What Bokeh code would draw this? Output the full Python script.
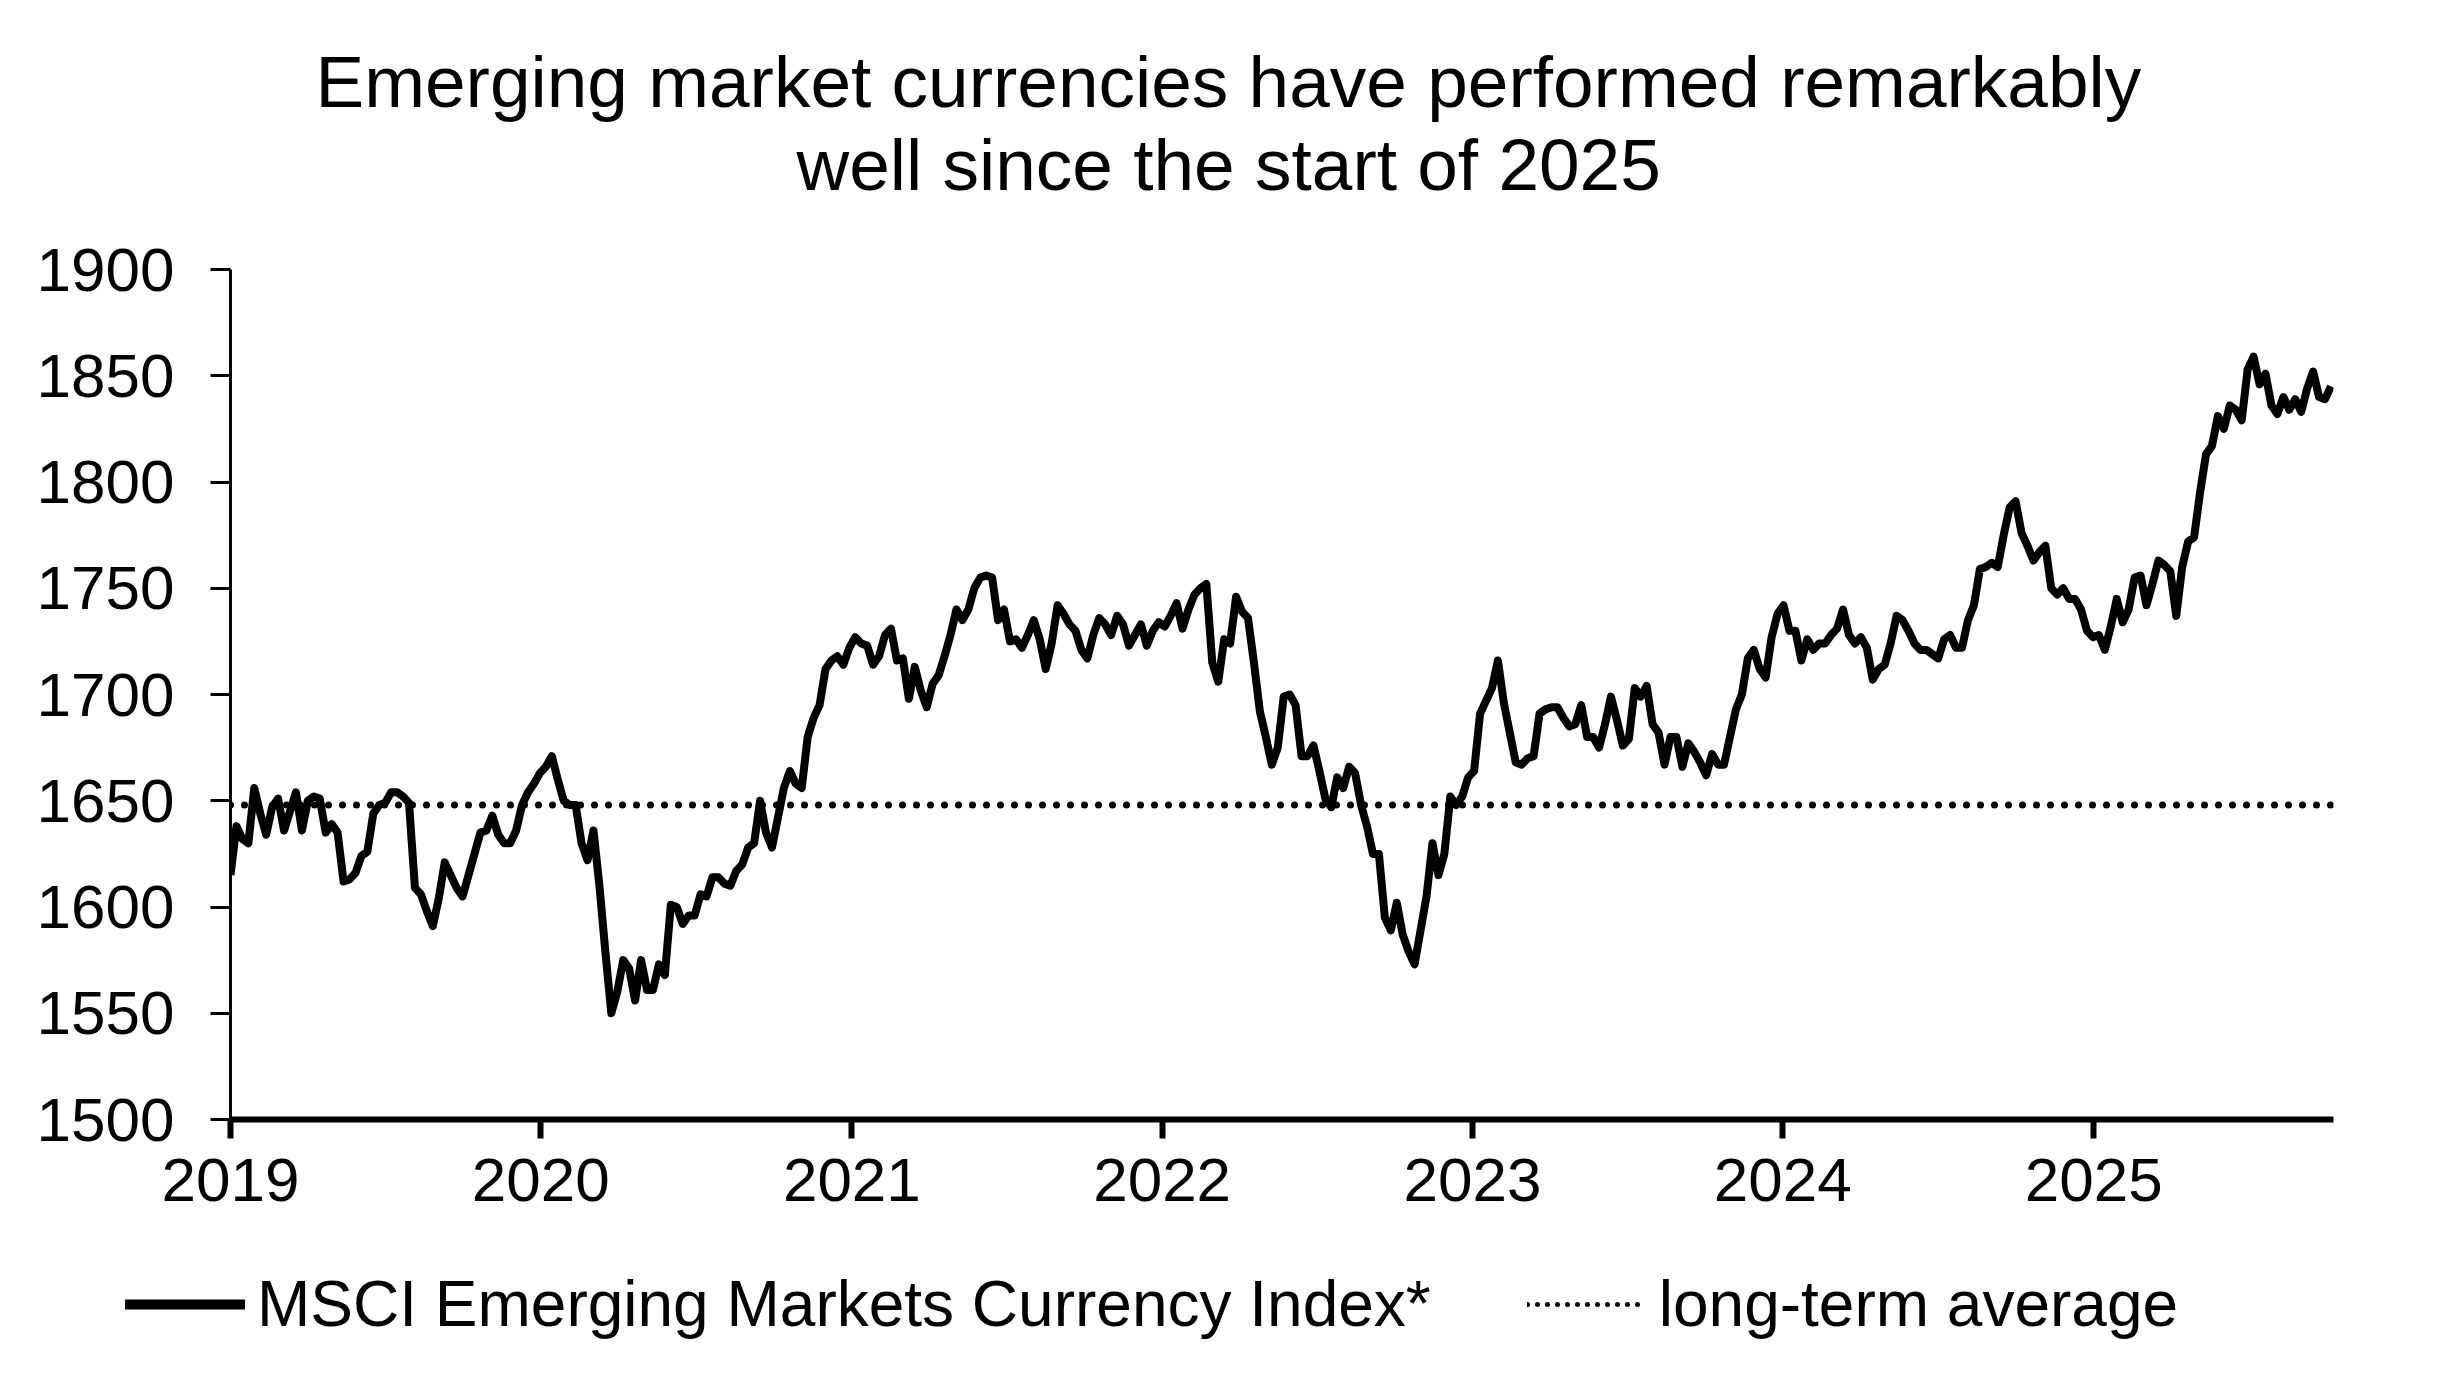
import pandas as pd
from bokeh.plotting import figure
from bokeh.layouts import column
from bokeh.models import (Range1d, FixedTicker, DatetimeTickFormatter, Title,
                          Legend, LegendItem)
from bokeh.core.properties import value
from bokeh.embed import file_html
from bokeh.resources import INLINE

FONT = "Liberation Sans"

title_lines = [
    "Emerging market currencies have performed remarkably",
    "well since the start of 2025",
]
series_label = "MSCI Emerging Markets Currency Index*"
average_label = "long-term average"

year_ticks = [2019, 2020, 2021, 2022, 2023, 2024, 2025]
y_ticks = [1500, 1550, 1600, 1650, 1700, 1750, 1800, 1850, 1900]
long_term_average = 1648

# Weekly index levels, one list per calendar year
idx_2019 = [1615, 1638, 1632, 1630, 1656, 1644, 1634, 1647, 1651, 1636,
            1645, 1654, 1636, 1650, 1652, 1651, 1635, 1639, 1635, 1612,
            1613, 1616, 1624, 1626, 1644, 1648, 1649, 1654, 1654, 1652,
            1649, 1609, 1606, 1598, 1591, 1604, 1621, 1615, 1609, 1605,
            1615, 1625, 1635, 1636, 1643, 1634, 1630, 1630, 1636, 1648,
            1654, 1658, 1663]
idx_2020 = [1666, 1671, 1660, 1650, 1648, 1648, 1630, 1622, 1636, 1610,
            1579, 1550, 1560, 1575, 1571, 1556, 1575, 1561, 1561, 1573,
            1568, 1601, 1600, 1592, 1596, 1596, 1606, 1605, 1614, 1614,
            1611, 1610, 1617, 1620, 1628, 1630, 1650, 1635, 1628, 1642,
            1656, 1664, 1658, 1656, 1680, 1689, 1695, 1712, 1716, 1718,
            1714, 1722]
idx_2021 = [1727, 1724, 1723, 1714, 1718, 1728, 1731, 1716, 1717, 1698,
            1713, 1702, 1694, 1705, 1709, 1718, 1728, 1740, 1735, 1740,
            1750, 1755, 1756, 1755, 1735, 1740, 1725, 1726, 1722, 1728,
            1735, 1726, 1712, 1724, 1742, 1738, 1733, 1730, 1721, 1717,
            1728, 1736, 1733, 1728, 1737, 1733, 1723, 1728, 1733, 1723,
            1730, 1734]
idx_2022 = [1732, 1737, 1743, 1731, 1740, 1747, 1750, 1752, 1715, 1706,
            1726, 1724, 1746, 1739, 1736, 1715, 1692, 1680, 1667, 1675,
            1699, 1700, 1695, 1671, 1671, 1676, 1664, 1651, 1647, 1661,
            1656, 1666, 1663, 1648, 1638, 1625, 1625, 1595, 1589, 1602,
            1587, 1579, 1573, 1589, 1605, 1630, 1615, 1625, 1652, 1648,
            1652, 1661]
idx_2023 = [1664, 1691, 1697, 1703, 1716, 1696, 1682, 1668, 1667, 1670,
            1671, 1691, 1693, 1694, 1694, 1689, 1685, 1686, 1695, 1680,
            1680, 1675, 1686, 1699, 1688, 1676, 1679, 1703, 1699, 1704,
            1686, 1682, 1667, 1680, 1680, 1666, 1677, 1673, 1668, 1662,
            1672, 1667, 1667, 1680, 1693, 1700, 1717, 1721, 1712, 1708,
            1727, 1738]
idx_2024 = [1742, 1730, 1730, 1716, 1726, 1721, 1724, 1724, 1728, 1731,
            1740, 1728, 1724, 1727, 1722, 1707, 1712, 1714, 1724, 1737,
            1735, 1730, 1724, 1721, 1721, 1719, 1717, 1726, 1728, 1722,
            1722, 1735, 1742, 1759, 1760, 1762, 1760, 1775, 1788, 1791,
            1776, 1770, 1763, 1767, 1770, 1750, 1747, 1750, 1745, 1745,
            1740, 1730, 1727]
idx_2025 = [1728, 1721, 1732, 1745, 1734, 1740, 1755, 1756, 1742, 1752,
            1763, 1761, 1758, 1737, 1760, 1772, 1774, 1795, 1813, 1817,
            1831, 1825, 1836, 1834, 1829, 1853, 1859, 1846, 1851, 1836,
            1832, 1840, 1834, 1839, 1833, 1844, 1852, 1840, 1839, 1845]

values = idx_2019 + idx_2020 + idx_2021 + idx_2022 + idx_2023 + idx_2024 + idx_2025
dates = pd.date_range("2019-01-01", periods=len(values), freq="7D")

x_start = pd.Timestamp("2019-01-01")
x_end = pd.Timestamp("2025-10-10")

WIDTH = 2455
CHART_H = 1240
LEGEND_H = 145

p = figure(
    width=WIDTH, height=CHART_H,
    x_axis_type="datetime",
    x_range=Range1d(x_start, x_end),
    y_range=Range1d(y_ticks[0], y_ticks[-1]),
    output_backend="svg", toolbar_location=None,
    min_border_left=230, min_border_right=122,
    min_border_top=269, min_border_bottom=121,
)
p.frame_align = False
p.background_fill_color = "white"
p.border_fill_color = "white"
p.outline_line_color = None
p.xgrid.visible = False
p.ygrid.visible = False

# x axis: one tick at the start of every year
xa = p.xaxis[0]
xa.ticker = FixedTicker(ticks=[pd.Timestamp(f"{y}-01-01").value // 10**6 for y in year_ticks])
xa.formatter = DatetimeTickFormatter(years="%Y", months="%Y", days="%Y", hours="%Y")
xa.axis_line_width = 6
xa.axis_line_color = "black"
xa.major_tick_line_width = 6
xa.major_tick_line_color = "black"
xa.major_tick_out = 19
xa.major_tick_in = 0
xa.minor_tick_line_color = None
xa.major_label_text_font = FONT
xa.major_label_text_font_size = "62px"
xa.major_label_text_color = "black"
xa.major_label_standoff = 20

ya = p.yaxis[0]
ya.ticker = FixedTicker(ticks=y_ticks)
ya.axis_line_width = 3
ya.axis_line_color = "black"
ya.major_tick_line_width = 3
ya.major_tick_line_color = "black"
ya.major_tick_out = 20
ya.major_tick_in = 0
ya.minor_tick_line_color = None
ya.major_label_text_font = FONT
ya.major_label_text_font_size = "62px"
ya.major_label_text_color = "black"
ya.major_label_standoff = 36

# long-term average (dotted) and the index itself
p.line([x_start, x_end], [long_term_average, long_term_average],
       line_width=7, line_color="black", line_dash="0 14", line_cap="round")
p.line(dates, values, line_width=8, line_color="black", line_join="round")

# two-line heading, stacked above the frame (first added sits lowest)
spacer = Title(text=" ", text_font_size="1px", standoff=62)
p.add_layout(spacer, "above")
for text, offset in [(title_lines[1], 566), (title_lines[0], 85)]:
    p.add_layout(Title(text=text, align="left", offset=offset, standoff=0,
                       vertical_align="bottom",
                       text_font=FONT, text_font_size="73px",
                       text_font_style="normal", text_color="black"), "above")

# legend strip under the chart; its frame covers the whole strip
leg = figure(
    width=WIDTH, height=LEGEND_H,
    x_range=Range1d(0, 1), y_range=Range1d(0, 1),
    x_axis_location=None, y_axis_location=None,
    output_backend="svg", toolbar_location=None,
    min_border=0,
)
leg.frame_align = False
leg.outline_line_color = None
leg.background_fill_color = "white"
leg.border_fill_color = "white"
leg.xgrid.visible = False
leg.ygrid.visible = False
# sample strokes for the legend keys (kept outside the strip's visible range)
leg_main = leg.line([-3, -2], [-3, -2], line_width=10, line_color="black", line_cap="round")
leg_avg = leg.line([-3, -2], [-3, -2], line_width=5, line_color="black",
                   line_dash="0 10", line_cap="round")

legend = Legend(
    items=[LegendItem(label=value(series_label), renderers=[leg_main]),
           LegendItem(label=value(average_label), renderers=[leg_avg])],
    orientation="horizontal",
    location=(125, 44),
    glyph_width=120, glyph_height=72, label_height=72,
    label_standoff=12, spacing=96,
    padding=0, margin=0,
    border_line_color=None, background_fill_alpha=0,
    label_text_font=FONT, label_text_font_size="64px", label_text_color="black",
)
leg.add_layout(legend)

layout = column(p, leg, spacing=0)
open("out.html", "w").write(file_html(layout, INLINE))
